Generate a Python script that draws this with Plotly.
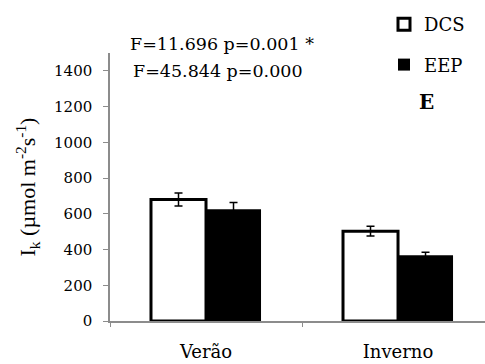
import plotly.graph_objects as go

# Light-saturation parameter Ik by season and site
seasons = ["Verão", "Inverno"]
dcs_values = [680, 503]
dcs_errors = [37, 27]
eep_values = [625, 368]
eep_errors = [38, 17]
y_ticks = [0, 200, 400, 600, 800, 1000, 1200, 1400]

FONT = "DejaVu Serif"
TITLE_FONT = "Liberation Serif"

fig = go.Figure()
fig.add_trace(go.Bar(
    x=seasons, y=dcs_values, name="DCS", legendgroup="dcs",
    marker=dict(color="white", line=dict(color="black", width=3)),
    error_y=dict(type="data", array=dcs_errors, color="black", thickness=1.5, width=4),
))
fig.add_trace(go.Bar(
    x=seasons, y=eep_values, name="EEP", legendgroup="eep",
    marker=dict(color="black", line=dict(color="black", width=0)),
    error_y=dict(type="data", array=eep_errors, color="black", thickness=1.5, width=4),
))

fig.update_layout(
    width=485, height=364,
    margin=dict(l=110, r=0, t=53, b=43),
    paper_bgcolor="white", plot_bgcolor="white",
    font=dict(family=FONT, size=16, color="black"),
    barmode="group", bargap=0.427, bargroupgap=0,
    showlegend=True,
    legend=dict(
        x=(384 - 110) / 375, y=1 + (53 - 6) / 268,
        xanchor="left", yanchor="top",
        font=dict(family=FONT, size=18, color="black"),
        tracegroupgap=14, itemwidth=30, bgcolor="rgba(0,0,0,0)",
    ),
)

fig.update_xaxes(
    range=[-0.5, 1.453], showline=True, linecolor="#8c8c8c", linewidth=1.5,
    ticks="outside", tickson="boundaries", ticklen=4, tickcolor="#8c8c8c",
    showgrid=False, zeroline=False, ticklabelstandoff=14,
    tickfont=dict(family=FONT, size=18),
)
fig.update_yaxes(
    range=[0, 1500], tickvals=y_ticks, showline=True, linecolor="#8c8c8c",
    linewidth=1.5, ticks="outside", ticklen=5, tickcolor="#8c8c8c",
    showgrid=False, zeroline=False, ticklabelstandoff=8,
    tickfont=dict(family=FONT, size=15),
    title=dict(text="I<sub>k</sub> (µmol m<sup>-2</sup>s<sup>-1</sup>)",
               font=dict(family=TITLE_FONT, size=22), standoff=12),
)

fig.add_annotation(text="F=11.696 p=0.001 *", xref="paper", yref="paper",
                   x=(128 - 110) / 375, y=1 + (53 - 44) / 268, xanchor="left",
                   yanchor="middle", showarrow=False, font=dict(family=FONT, size=17.5))
fig.add_annotation(text="F=45.844 p=0.000", xref="paper", yref="paper",
                   x=(131 - 110) / 375, y=1 + (53 - 71) / 268, xanchor="left",
                   yanchor="middle", showarrow=False, font=dict(family=FONT, size=17.5))
fig.add_annotation(text="<b>E</b>", xref="paper", yref="paper",
                   x=(426 - 110) / 375, y=1 + (53 - 102) / 268, xanchor="center",
                   yanchor="middle", showarrow=False, font=dict(family=FONT, size=20))

fig.write_html("out.html")
